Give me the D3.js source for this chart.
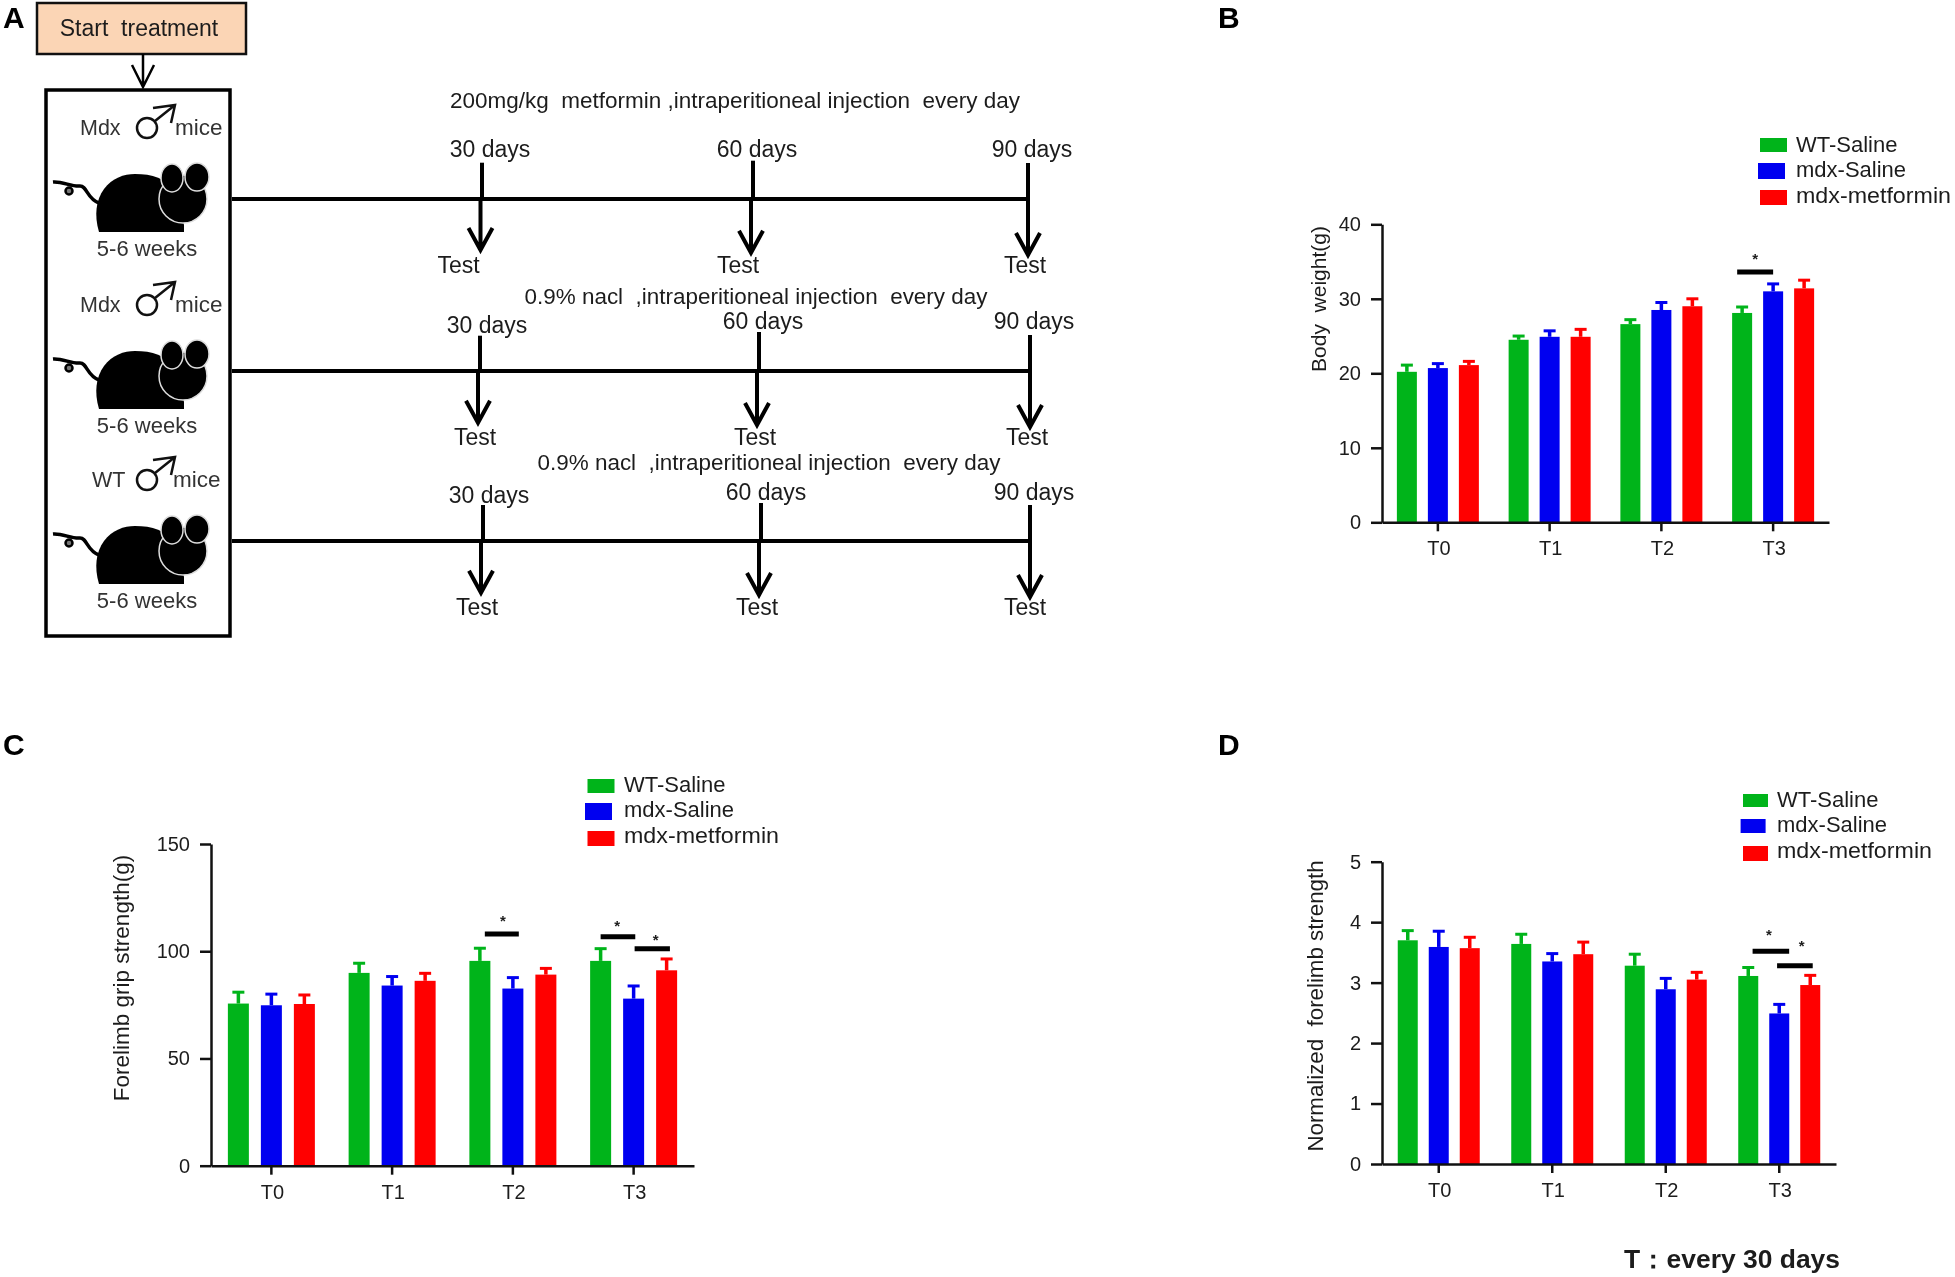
<!DOCTYPE html>
<html>
<head>
<meta charset="utf-8">
<script src="https://cdn.jsdelivr.net/npm/d3@7"></script>
<style>
	html, body { margin: 0; background: #fff; }
	svg { display: block; filter: blur(0.5px); }
	text { font-family: "Liberation Sans", Arial, sans-serif; fill: #1c1c1c; white-space: pre; }
	.panel-letter { font-weight: bold; font-size: 30px; fill: #000; }
	.axis path, .axis line { stroke: #111; stroke-width: 2.5; }
	.axis text { font-size: 20px; }
</style>
</head>
<body>
<div id="graphic"></div>
<script>
// ---- data ----
const categories = ['T0', 'T1', 'T2', 'T3'];
const groups = ['WT-Saline', 'mdx-Saline', 'mdx-metformin'];
const colours = ['#00b41a', '#0000f0', '#ff0000'];

// means and top of the error bar, one row per group
const bodyWeight = [[20.2, 24.5, 26.6, 28.1], [20.7, 24.9, 28.5, 31.0], [21.1, 24.9, 29.0, 31.4]];
const bodyWeightUpper = [[21.1, 25.0, 27.2, 28.9], [21.3, 25.7, 29.5, 32.0], [21.6, 25.9, 30.0, 32.5]];
const bodyWeightSig = [{ cat: 'T3', from: -0.16, to: 1, y: 33.6, star: 35.8, starAt: 0.42 }];

const gripStrength = [[75.6, 89.9, 95.5, 95.5], [74.8, 84.0, 82.6, 77.9], [75.4, 86.2, 89.1, 91.1]];
const gripStrengthUpper = [[80.9, 94.4, 101.4, 101.2], [80.0, 88.2, 87.7, 83.8], [79.6, 89.7, 92.0, 96.4]];
const gripStrengthSig = [
	{ cat: 'T2', from: 0.15, to: 1.18, y: 108, star: 115.4, starAt: 0.7 },
	{ cat: 'T3', from: 0, to: 1.05, y: 106.8, star: 113, starAt: 0.5 },
	{ cat: 'T3', from: 1.03, to: 2.1, y: 101.2, star: 106.8, starAt: 1.67 }
];

const normStrength = [[3.70, 3.64, 3.28, 3.11], [3.59, 3.35, 2.89, 2.49], [3.57, 3.47, 3.05, 2.96]];
const normStrengthUpper = [[3.86, 3.80, 3.47, 3.25], [3.85, 3.48, 3.07, 2.64], [3.75, 3.67, 3.17, 3.12]];
const normStrengthSig = [
	{ cat: 'T3', from: 0.14, to: 1.32, y: 3.52, star: 3.83, starAt: 0.67 },
	{ cat: 'T3', from: 0.93, to: 2.08, y: 3.28, star: 3.66, starAt: 1.72 }
];

const timepoints = ['30 days', '60 days', '90 days'];
const treatments = [
	'200mg/kg  metformin ,intraperitioneal injection  every day',
	'0.9% nacl  ,intraperitioneal injection  every day',
	'0.9% nacl  ,intraperitioneal injection  every day'
];
const mouseLabels = ['Mdx', 'Mdx', 'WT'];

// ---- layout ----
const svg = d3.select('#graphic').append('svg').attr('width', 1955).attr('height', 1277);

const panels = [
	{
		letter: 'B', letterX: 1218, letterY: 28,
		yLabel: 'Body  weight(g)', yLabelX: 1319, yLabelY: 299, yLabelSize: 21,
		yMax: 40, yTicks: [0, 10, 20, 30, 40],
		means: bodyWeight, upper: bodyWeightUpper, sig: bodyWeightSig,
		left: 1382, right: 1829, top: 224.3, bottom: 522.3, step: 31, barWidth: 20,
		swatches: [[1760, 138, 14], [1758, 163, 16], [1760, 190, 15]], swatchWidth: 27,
		legendX: 1796, legendY: [152, 177, 203]
	},
	{
		letter: 'C', letterX: 3, letterY: 755,
		yLabel: 'Forelimb grip strength(g)', yLabelX: 121, yLabelY: 978, yLabelSize: 22.5,
		yMax: 150, yTicks: [0, 50, 100, 150],
		means: gripStrength, upper: gripStrengthUpper, sig: gripStrengthSig,
		left: 211, right: 694, top: 844, bottom: 1165.7, step: 33, barWidth: 21,
		swatches: [[587.5, 779, 14], [585, 803, 17], [587.5, 831, 15]], swatchWidth: 27,
		legendX: 624, legendY: [792, 817, 843]
	},
	{
		letter: 'D', letterX: 1218, letterY: 755,
		yLabel: 'Normalized  forelimb strength', yLabelX: 1315, yLabelY: 1006, yLabelSize: 22.3,
		yMax: 5, yTicks: [0, 1, 2, 3, 4, 5],
		means: normStrength, upper: normStrengthUpper, sig: normStrengthSig,
		left: 1382, right: 1836, top: 861.7, bottom: 1164, step: 31, barWidth: 20,
		swatches: [[1743, 794, 13], [1740.6, 819, 14], [1743, 846, 15]], swatchWidth: 25,
		legendX: 1777, legendY: [807, 832, 858]
	}
];

function drawPanel(p) {
	const g = svg.append('g');

	const x = d3.scaleBand().domain(categories).range([p.left, p.right]);
	const xInner = d3.scaleLinear().domain([0, 2]).range([-p.step, p.step]);
	const y = d3.scaleLinear().domain([0, p.yMax]).range([p.bottom, p.top]);
	const centre = (cat, pos) => x(cat) + x.bandwidth() / 2 + xInner(pos);

	// bars and their error bars
	groups.forEach(function (group, gi) {
		const series = g.append('g').attr('class', 'series');
		categories.forEach(function (cat, ci) {
			const cx = centre(cat, gi);
			series.append('rect')
				.attr('x', cx - p.barWidth / 2)
				.attr('y', y(p.means[gi][ci]))
				.attr('width', p.barWidth)
				.attr('height', y(0) - y(p.means[gi][ci]))
				.attr('fill', colours[gi]);
			series.append('line')
				.attr('x1', cx).attr('x2', cx)
				.attr('y1', y(p.means[gi][ci])).attr('y2', y(p.upper[gi][ci]))
				.attr('stroke', colours[gi]).attr('stroke-width', 3.5);
			series.append('line')
				.attr('x1', cx - 6).attr('x2', cx + 6)
				.attr('y1', y(p.upper[gi][ci])).attr('y2', y(p.upper[gi][ci]))
				.attr('stroke', colours[gi]).attr('stroke-width', 3);
		});
	});

	// axes
	g.append('g')
		.attr('class', 'axis')
		.attr('transform', `translate(0, ${p.bottom})`)
		.call(d3.axisBottom(x).tickSize(9).tickSizeOuter(0).tickPadding(10))
		.selectAll('text').attr('dx', 1);

	g.append('g')
		.attr('class', 'axis')
		.attr('transform', `translate(${p.left}, 0)`)
		.call(d3.axisLeft(y).tickValues(p.yTicks).tickSize(11).tickSizeOuter(0).tickPadding(10).tickFormat(d3.format('d')));

	g.append('text')
		.attr('transform', `translate(${p.yLabelX}, ${p.yLabelY}) rotate(-90)`)
		.attr('text-anchor', 'middle')
		.attr('dy', '0.35em')
		.style('font-size', p.yLabelSize + 'px')
		.text(p.yLabel);

	// significance bars
	p.sig.forEach(function (s) {
		g.append('line')
			.attr('x1', centre(s.cat, s.from)).attr('x2', centre(s.cat, s.to))
			.attr('y1', y(s.y)).attr('y2', y(s.y))
			.attr('stroke', '#000').attr('stroke-width', 5);
		g.append('text')
			.attr('x', centre(s.cat, s.starAt))
			.attr('y', y(s.star) + 8)
			.attr('text-anchor', 'middle')
			.style('font-size', '15px')
			.style('font-weight', 'bold')
			.text('*');
	});

	// legend
	groups.forEach(function (group, gi) {
		g.append('rect')
			.attr('x', p.swatches[gi][0]).attr('y', p.swatches[gi][1])
			.attr('width', p.swatchWidth).attr('height', p.swatches[gi][2])
			.attr('fill', colours[gi]);
		g.append('text')
			.attr('x', p.legendX).attr('y', p.legendY[gi])
			.style('font-size', '22px')
			.attr('textLength', gi === 2 ? 155 : null)
			.attr('lengthAdjust', 'spacingAndGlyphs')
			.text(group);
	});

	svg.append('text').attr('class', 'panel-letter').attr('x', p.letterX).attr('y', p.letterY).text(p.letter);
}

panels.forEach(drawPanel);

svg.append('text')
	.attr('x', 1624).attr('y', 1268)
	.attr('textLength', 216)
	.attr('lengthAdjust', 'spacingAndGlyphs')
	.style('font-size', '25px').style('font-weight', 'bold')
	.text('T：every 30 days');

// ---- panel A, the treatment schedule ----
const rows = [
	{
		lineY: 199, lineEnd: 1028, titleX: 735, titleY: 108, titleLength: 570,
		tops: [[482, 162.7], [753, 160.7], [1028, 163]],
		tips: [[480.5, 250], [751, 252.7], [1028, 255]],
		dayX: [490, 757, 1032], dayY: [157, 157, 157],
		testX: [458.5, 738, 1025], testY: 272.7
	},
	{
		lineY: 371, lineEnd: 1030, titleX: 756, titleY: 304, titleLength: 463,
		tops: [[480, 335.7], [759, 332], [1030, 335]],
		tips: [[478, 422.7], [757, 425], [1030, 427]],
		dayX: [487, 763, 1034], dayY: [333, 329, 329],
		testX: [475, 755, 1027], testY: 445
	},
	{
		lineY: 541, lineEnd: 1030, titleX: 769, titleY: 470, titleLength: 463,
		tops: [[483, 505], [761, 503], [1030, 505]],
		tips: [[481, 592.7], [759, 595], [1030, 597]],
		dayX: [489, 766, 1034], dayY: [503, 500, 500],
		testX: [477, 757, 1025], testY: 615
	}
];
const mouseOffsets = [0, 177, 352];

function arrow(g, x, y1, y2, wing, back, width) {
	g.append('path')
		.attr('d', `M${x},${y1}V${y2}M${x - wing},${y2 - back}L${x},${y2}L${x + wing},${y2 - back}`)
		.attr('fill', 'none')
		.attr('stroke', '#000')
		.attr('stroke-width', width);
}

function drawRow(row, i) {
	const g = svg.append('g');

	g.append('line')
		.attr('x1', 232).attr('x2', row.lineEnd)
		.attr('y1', row.lineY).attr('y2', row.lineY)
		.attr('stroke', '#000').attr('stroke-width', 4);

	g.append('text')
		.attr('x', row.titleX).attr('y', row.titleY)
		.attr('text-anchor', 'middle')
		.attr('textLength', row.titleLength)
		.attr('lengthAdjust', 'spacingAndGlyphs')
		.style('font-size', '22px')
		.text(treatments[i]);

	timepoints.forEach(function (label, t) {
		g.append('line')
			.attr('x1', row.tops[t][0]).attr('x2', row.tops[t][0])
			.attr('y1', row.tops[t][1]).attr('y2', row.lineY)
			.attr('stroke', '#000').attr('stroke-width', 4);
		arrow(g, row.tips[t][0], row.lineY, row.tips[t][1], 12, 22, 4);
		g.append('text')
			.attr('x', row.dayX[t]).attr('y', row.dayY[t])
			.attr('text-anchor', 'middle')
			.style('font-size', '23px')
			.text(label);
		g.append('text')
			.attr('x', row.testX[t]).attr('y', row.testY)
			.attr('text-anchor', 'middle')
			.style('font-size', '23px')
			.text('Test');
	});

	// the mouse and its label, drawn for the first row and moved down
	const m = svg.append('g').attr('transform', `translate(0, ${mouseOffsets[i]})`);

	m.append('text')
		.attr('x', i === 2 ? 92 : 80).attr('y', 135)
		.style('font-size', '21.5px').style('fill', '#333')
		.text(mouseLabels[i]);
	m.append('text')
		.attr('x', i === 2 ? 173 : 175).attr('y', 135)
		.style('font-size', '22.5px').style('fill', '#333')
		.text('mice');

	// male sign
	m.append('circle').attr('cx', 147).attr('cy', 128).attr('r', 10)
		.attr('fill', 'none').attr('stroke', '#111').attr('stroke-width', 2.5);
	m.append('path')
		.attr('d', 'M155,121L175,105M153,108L175,105L171,123')
		.attr('fill', 'none').attr('stroke', '#111').attr('stroke-width', 2.5);

	// tail
	m.append('path')
		.attr('d', 'M53,182C62,181 72,187 80,186C87,186 87,199 99,203')
		.attr('fill', 'none').attr('stroke', '#000').attr('stroke-width', 3.5);
	m.append('circle').attr('cx', 69).attr('cy', 191).attr('r', 3.5)
		.attr('fill', '#777').attr('stroke', '#000').attr('stroke-width', 2.5);

	// body, head, ears
	m.append('path')
		.attr('d', 'M99,232C94,215 96,200 104,189C112,178 124,174 135,174C152,174 166,178 176,192L184,225V232Z')
		.attr('fill', '#000');
	m.append('circle').attr('cx', 183).attr('cy', 199).attr('r', 24)
		.attr('fill', '#000').attr('stroke', '#ddd').attr('stroke-width', 1.5);
	m.append('ellipse').attr('cx', 172).attr('cy', 178).attr('rx', 11).attr('ry', 14)
		.attr('fill', '#000').attr('stroke', '#ddd').attr('stroke-width', 1.5);
	m.append('ellipse').attr('cx', 197).attr('cy', 177).attr('rx', 12).attr('ry', 14)
		.attr('fill', '#000').attr('stroke', '#ddd').attr('stroke-width', 1.5);

	m.append('text')
		.attr('x', 147).attr('y', 256)
		.attr('text-anchor', 'middle')
		.style('font-size', '22px').style('fill', '#333')
		.text('5-6 weeks');
}

rows.forEach(drawRow);

// start box and the frame round the mice
svg.append('rect')
	.attr('x', 37).attr('y', 3).attr('width', 209).attr('height', 51)
	.attr('fill', '#fbd5b5').attr('stroke', '#111').attr('stroke-width', 2.5);
svg.append('text')
	.attr('x', 139).attr('y', 36)
	.attr('text-anchor', 'middle')
	.style('font-size', '23px')
	.text('Start  treatment');
arrow(svg, 143, 54, 87, 11, 22, 2.5);

svg.append('rect')
	.attr('x', 46).attr('y', 90).attr('width', 184).attr('height', 546)
	.attr('fill', 'none').attr('stroke', '#000').attr('stroke-width', 3.5);

svg.append('text').attr('class', 'panel-letter').attr('x', 3).attr('y', 28).text('A');
</script>
</body>
</html>
